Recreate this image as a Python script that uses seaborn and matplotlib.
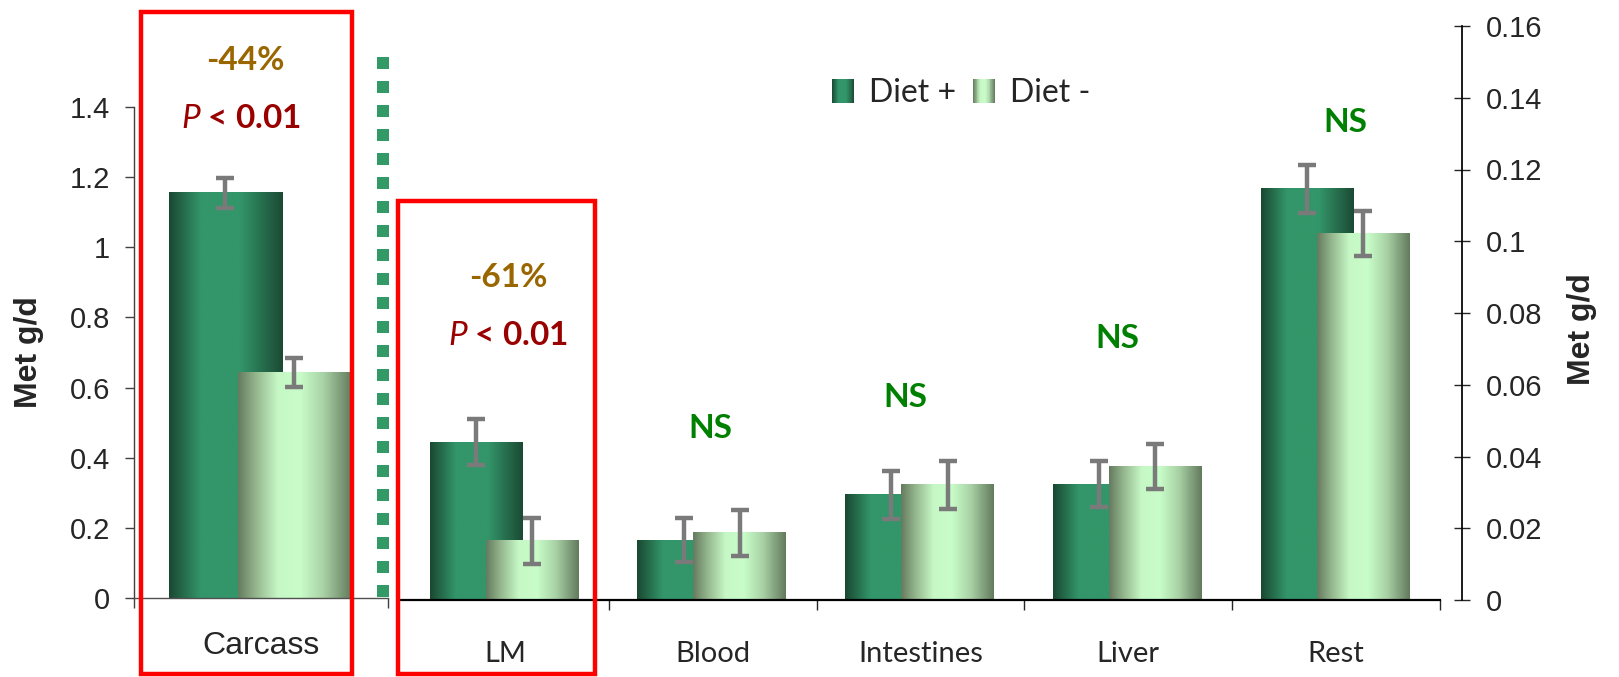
import numpy as np
import matplotlib
matplotlib.use('Agg')
import matplotlib.pyplot as plt
import seaborn as sns
from matplotlib.colors import LinearSegmentedColormap
from matplotlib.patches import Rectangle, Patch
from matplotlib.lines import Line2D
from matplotlib.legend_handler import HandlerBase

# ---- data ----
carcass_cat = ['Carcass']
carcass_plus = [1.155]
carcass_minus = [0.643]
carcass_plus_err = [0.042]
carcass_minus_err = [0.041]

tissues = ['LM', 'Blood', 'Intestines', 'Liver', 'Rest']
tissue_plus = [0.0440, 0.0167, 0.0293, 0.0323, 0.1146]
tissue_minus = [0.0165, 0.0188, 0.0321, 0.0372, 0.1021]
tissue_plus_err = [0.0064, 0.0061, 0.0066, 0.0065, 0.0067]
tissue_minus_err = [0.0064, 0.0064, 0.0066, 0.0062, 0.0062]

left_ticks = [0, 0.2, 0.4, 0.6, 0.8, 1.0, 1.2, 1.4]
left_labels = ['0', '0.2', '0.4', '0.6', '0.8', '1', '1.2', '1.4']
right_ticks = [0, 0.02, 0.04, 0.06, 0.08, 0.10, 0.12, 0.14, 0.16]
right_labels = ['0', '0.02', '0.04', '0.06', '0.08', '0.1', '0.12', '0.14', '0.16']
series = ['Diet +', 'Diet -']

# ---- style ----
sns.set_theme(style='ticks')
plt.rcParams['font.family'] = ['Liberation Sans', 'DejaVu Sans']
plt.rcParams['mathtext.fontset'] = 'custom'
plt.rcParams['mathtext.it'] = 'Lato:italic'
plt.rcParams['mathtext.rm'] = 'Lato:bold'

cmap_plus = LinearSegmentedColormap.from_list(
    'plus', [(0, '#1a4832'), (0.28, '#33966a'), (0.62, '#33966a'), (1, '#1b4a34')])
cmap_minus = LinearSegmentedColormap.from_list(
    'minus', [(0, '#657b5f'), (0.15, '#93b48c'), (0.35, '#c6f8c6'), (0.55, '#c8fcc8'),
              (0.75, '#a9d2a6'), (1, '#627a5d')])

W, H = 1619, 677
fig = plt.figure(figsize=(W / 100, H / 100), dpi=100)


def px_box(l, t, r, b):
    return [l / W, 1 - b / H, (r - l) / W, (b - t) / H]


ax1 = fig.add_axes(px_box(134, 26, 388, 598))
ax2 = fig.add_axes(px_box(401, 26, 1440, 600))

OFF_P, OFF_M, BAR_W = -0.14, 0.13, 0.445


def paint(ax, bars, cmap, z):
    grad = np.linspace(0, 1, 256).reshape(1, -1)
    for p in bars:
        x0, y0 = p.get_x(), p.get_y()
        w, h = p.get_width(), p.get_height()
        ax.imshow(grad, cmap=cmap, extent=(x0, x0 + w, y0, y0 + h),
                  aspect='auto', zorder=z, interpolation='bilinear')


def draw_pair(ax, plus, minus, eplus, eminus):
    pos = np.arange(len(plus))
    xp, xm = pos + OFF_P, pos + OFF_M
    k = len(ax.patches)
    sns.barplot(x=xp, y=plus, native_scale=True, orient='x', width=BAR_W,
                color='#33966a', saturation=1, linewidth=0, errorbar=None, ax=ax)
    bars_p = ax.patches[k:]
    k = len(ax.patches)
    sns.barplot(x=xm, y=minus, native_scale=True, orient='x', width=BAR_W,
                color='#c8fcc8', saturation=1, linewidth=0, errorbar=None, ax=ax)
    bars_m = ax.patches[k:]
    paint(ax, bars_p, cmap_plus, 2)
    paint(ax, bars_m, cmap_minus, 2.5)
    for x, y, e in [(xp, plus, eplus), (xm, minus, eminus)]:
        ax.errorbar(x, y, yerr=e, fmt='none', ecolor='#7a7a7a', elinewidth=3.2,
                    capsize=6.8, capthick=3.2, zorder=6)


draw_pair(ax1, carcass_plus, carcass_minus, carcass_plus_err, carcass_minus_err)
draw_pair(ax2, tissue_plus, tissue_minus, tissue_plus_err, tissue_minus_err)

# ---- left (Carcass) axis ----
ax1.set_xlim(-0.5, 0.5)
ax1.set_ylim(0, 1.631)
ax1.set_yticks(left_ticks)
ax1.set_yticklabels(left_labels)
ax1.set_xticks([-0.5, 0.5])
ax1.set_xticklabels([])
ax1.set_xticks([0], minor=True)
ax1.set_xticklabels(carcass_cat, minor=True)
ax1.tick_params(axis='y', direction='out', length=6.5, width=1, pad=10.8,
                labelsize=21, color='#404040')
ax1.tick_params(axis='x', which='major', direction='out', length=7, width=1,
                color='#404040')
ax1.tick_params(axis='x', which='minor', length=0, pad=23.8, labelsize=23)
for s in ['top', 'right']:
    ax1.spines[s].set_visible(False)
ax1.spines['left'].set_bounds(0, 1.4)
ax1.spines['left'].set_color('#404040')
ax1.spines['bottom'].set_color('#505050')
ax1.spines['left'].set_linewidth(1)
ax1.spines['bottom'].set_linewidth(1)
ax1.set_ylabel('Met g/d', fontsize=23, fontweight='bold')
ax1.yaxis.set_label_coords(-0.413, 0.43)
ax1.yaxis.label.set_va('center')
ax1.set_xlabel('')

# ---- right (tissues) axis ----
ax2.set_xlim(-0.5, 4.5)
ax2.set_ylim(0, 0.16)
ax2.yaxis.tick_right()
ax2.yaxis.set_label_position('right')
ax2.set_yticks(right_ticks)
ax2.set_yticklabels(right_labels)
ax2.set_xticks([0.5, 1.5, 2.5, 3.5, 4.5])
ax2.set_xticklabels([])
ax2.set_xticks(range(len(tissues)), minor=True)
ax2.set_xticklabels(tissues, minor=True)
ax2.tick_params(axis='y', which='major', direction='inout', length=12, width=1,
                pad=11.3, labelsize=21, right=True, left=False)
ax2.tick_params(axis='x', which='major', direction='out', length=7, width=1)
ax2.tick_params(axis='x', which='minor', length=0, pad=29.5, labelsize=21)
for lbl in ax2.get_xticklabels(minor=True):
    lbl.set_fontfamily('Lato')
for s in ['top', 'left']:
    ax2.spines[s].set_visible(False)
ax2.spines['right'].set_position(('outward', 15.8))
ax2.spines['right'].set_color('black')
ax2.spines['bottom'].set_color('black')
ax2.spines['bottom'].set_linewidth(1.6)
ax2.set_ylabel('Met g/d', fontsize=23, fontweight='bold', rotation=90)
ax2.yaxis.set_label_coords(1.137, 0.472)
ax2.yaxis.label.set_va('center')
ax2.set_xlabel('')

# ---- annotations ----
ann = dict(ha='center', va='baseline', fontsize=24, fontweight='bold', fontfamily='Lato')
ax1.text(-0.061, 1.506, '-44%', color='#996600', clip_on=False, **ann)
ax1.text(-0.077, 1.340, r'$P$ < 0.01', color='#990000', clip_on=False, **ann)
ax2.text(0.015, 0.0872, '-61%', color='#996600', **ann)
ax2.text(0.015, 0.0712, r'$P$ < 0.01', color='#990000', **ann)
ax2.text(0.987, 0.0452, 'NS', color='#008000', **ann)
ax2.text(1.928, 0.0538, 'NS', color='#008000', **ann)
ax2.text(2.946, 0.0702, 'NS', color='#008000', **ann)
ax2.text(4.043, 0.1305, 'NS', color='#008000', **ann)

# ---- red boxes and dotted divider ----
for l, t, r, b in [(140.5, 12, 352, 674), (397.5, 201, 594.5, 674)]:
    fig.add_artist(Rectangle((l / W, 1 - b / H), (r - l) / W, (b - t) / H,
                             transform=fig.transFigure, fill=False,
                             edgecolor='#ff0000', lw=3.2, zorder=10))
fig.add_artist(Line2D([383 / W, 383 / W], [1 - 57 / H, 1 - 598 / H],
                      transform=fig.transFigure, color='#339966', lw=8.64,
                      linestyle=(0, (1, 1)), dash_capstyle='butt'))


# ---- legend with gradient swatches ----
class GradientHandler(HandlerBase):
    def __init__(self, cmap, n=24):
        super().__init__()
        self.cmap = cmap
        self.n = n

    def create_artists(self, legend, orig_handle, xdescent, ydescent,
                       width, height, fontsize, trans):
        arts = []
        for i in range(self.n):
            arts.append(Rectangle((-xdescent + width * i / self.n, -ydescent),
                                  width / self.n * 1.1, height,
                                  facecolor=self.cmap((i + 0.5) / self.n),
                                  edgecolor='none', lw=0, transform=trans))
        return arts


h_plus = Patch(label=series[0])
h_minus = Patch(label=series[1])
fig.legend(handles=[h_plus, h_minus],
           handler_map={h_plus: GradientHandler(cmap_plus),
                        h_minus: GradientHandler(cmap_minus)},
           loc='center left', bbox_to_anchor=(832 / W, 1 - 93 / H),
           ncol=2, frameon=False, prop={'family': 'Lato', 'size': 23},
           handlelength=0.7, handleheight=0.77, handletextpad=0.46,
           columnspacing=0.52, borderpad=0, borderaxespad=0)

fig.savefig('out.png', dpi=100)
